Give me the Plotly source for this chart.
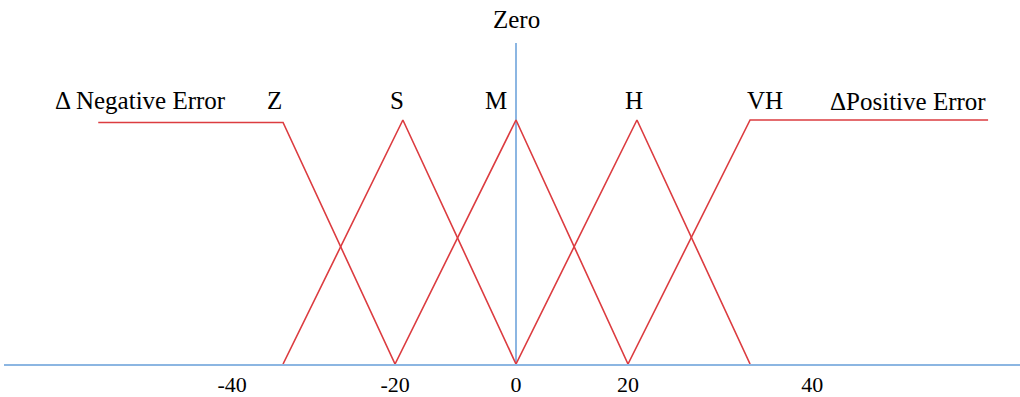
import plotly.graph_objects as go

# membership functions (error value, membership degree)
z_x = [-74.6, -41.6, -21.6]
z_y = [0.99, 0.99, 0]
s_x = [-41.6, -20.2, 0]
s_y = [0, 1, 0]
m_x = [-21.6, 0, 20]
m_y = [0, 1, 0]
h_x = [0, 21.6, 41.8]
h_y = [0, 1, 0]
vh_x = [20, 41.8, 84.3]
vh_y = [0, 1, 1]

tick_vals = [-50.7, -21.6, 0, 20, 52.9]
tick_text = ["-40", "-20", "0", "20", "40"]

RED = "#dc3c40"
BLUE = "#8cb6e2"
SERIF = "Liberation Serif"

fig = go.Figure()
for xs, ys in [(z_x, z_y), (s_x, s_y), (m_x, m_y), (h_x, h_y), (vh_x, vh_y)]:
    fig.add_trace(go.Scatter(x=xs, y=ys, mode="lines",
                             line=dict(color=RED, width=1.6),
                             showlegend=False, hoverinfo="skip"))

labels = [
    ("Z", -43.2, 1.082),
    ("S", -21.3, 1.082),
    ("M", -3.6, 1.082),
    ("H", 21.1, 1.078),
    ("VH", 44.5, 1.078),
    ("\u0394 Negative Error", -67.1, 1.078),
    ("\u0394Positive Error", 70.0, 1.074),
]
for text, x, y in labels:
    fig.add_annotation(x=x, y=y, text=text, showarrow=False,
                       font=dict(family=SERIF, size=25, color="black"))

# axis title above the vertical axis
fig.add_annotation(x=0, y=1.0717, yref="paper", yanchor="middle",
                   text="Zero", showarrow=False,
                   font=dict(family=SERIF, size=25, color="black"))

fig.update_layout(
    width=1020, height=397,
    margin=dict(l=4, r=0, t=43, b=33),
    paper_bgcolor="white", plot_bgcolor="white",
    xaxis=dict(range=[-91.43, 90.0], showgrid=False,
               zeroline=True, zerolinecolor=BLUE, zerolinewidth=1.6,
               showline=True, linecolor=BLUE, linewidth=2,
               tickvals=tick_vals, ticktext=tick_text, ticks="",
               tickfont=dict(family=SERIF, size=22, color="black")),
    yaxis=dict(range=[0, 1.3156], showgrid=False, zeroline=False,
               showticklabels=False, showline=False),
)

fig.write_html("out.html", config={"displayModeBar": False},
               post_script="document.body.style.margin='0';")
